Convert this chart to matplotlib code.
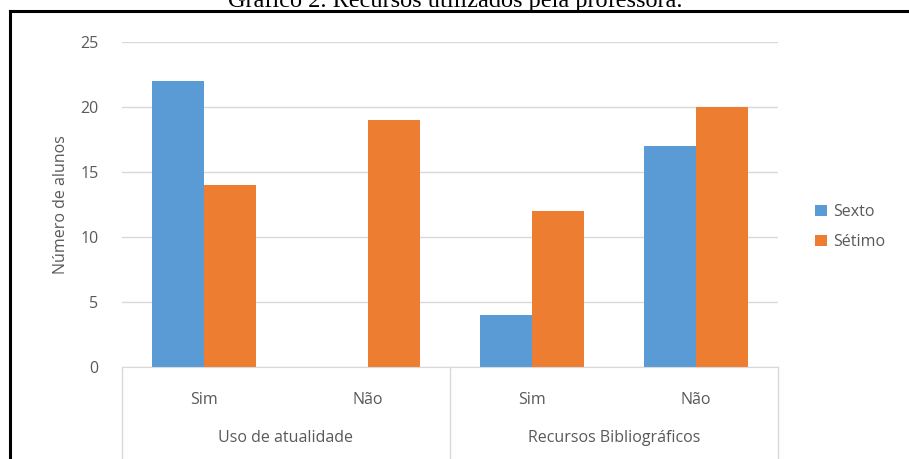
import matplotlib
matplotlib.use("Agg")
import matplotlib.pyplot as plt
import numpy as np

# data
groups = ["Uso de atualidade", "Recursos Bibliográficos"]
answers = ["Sim", "Não", "Sim", "Não"]
sexto = [22, 0, 4, 17]
setimo = [14, 19, 12, 20]
yticks = [0, 5, 10, 15, 20, 25]

BLUE = "#5b9bd5"
ORANGE = "#ed7d31"
GRID = "#d9d9d9"
TXT = "#595959"

plt.rcParams["font.family"] = ["Open Sans", "DejaVu Sans"]

W, H = 909, 459
fig = plt.figure(figsize=(W / 100, H / 100), dpi=100)

# chart frame (only left + top visible) and cut-off caption
fig.add_artist(plt.Line2D([9.5 / W, 9.5 / W], [0, 1 - 10.5 / H], color="black", lw=2.2))
fig.add_artist(plt.Line2D([9.5 / W, 1], [1 - 10.5 / H, 1 - 10.5 / H], color="black", lw=2.2))
fig.text(455 / W, 1 - 7 / H, "Gráfico 2. Recursos utilizados pela professora.",
         family="Liberation Serif", fontsize=17.5, ha="center", va="baseline", color="black")

left, right = 122 / W, 778 / W
bottom, top = 1 - 367 / H, 1 - 42 / H
ax = fig.add_axes([left, bottom, right - left, top - bottom])

x = np.arange(len(answers))
bw = 0.32
ax.bar(x - bw / 2, sexto, bw, color=BLUE, label="Sexto")
ax.bar(x + bw / 2, setimo, bw, color=ORANGE, label="Sétimo")

ax.set_xlim(-0.5, len(answers) - 0.5)
ax.set_ylim(0, 25)
ax.set_yticks(yticks)
ax.yaxis.grid(True, color=GRID, lw=1)
ax.set_axisbelow(True)
for s in ["top", "right", "left"]:
    ax.spines[s].set_visible(False)
ax.spines["bottom"].set_color(GRID)
ax.tick_params(axis="y", length=0, pad=17, labelcolor=TXT, labelsize=11.5)
ax.tick_params(axis="x", length=0, pad=18, labelcolor=TXT, labelsize=11.5)
ax.set_xticks(x)
ax.set_xticklabels(answers)
ax.set_ylabel("Número de alunos", color=TXT, fontsize=11.5, labelpad=8)

# multi-level category axis
drop = (459 - 367) / (367 - 42)
for xs in [0, 0.5, 1]:
    ax.plot([xs, xs], [0, -drop], transform=ax.transAxes, color=GRID, lw=1, clip_on=False)
for i, g in enumerate(groups):
    ax.text(0.25 + 0.5 * i, -(438 - 367) / (367 - 42), g, transform=ax.transAxes,
            ha="center", va="center", color=TXT, fontsize=11.5)

ax.legend(loc="center left", bbox_to_anchor=(1.035, 0.43), frameon=False,
          fontsize=11.5, labelcolor=TXT, handlelength=0.7, handleheight=0.7,
          handletextpad=0.4, labelspacing=0.9)

fig.savefig("out.png", dpi=100)
